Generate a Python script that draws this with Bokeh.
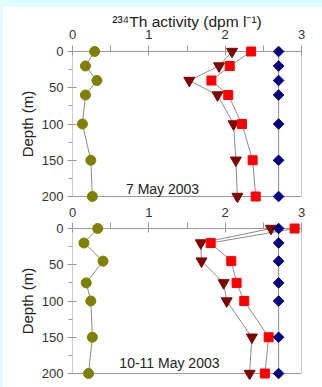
import math
from bokeh.plotting import figure
from bokeh.models import Range1d, FixedTicker, Label, Spacer, Title
from bokeh.layouts import column, row
from bokeh.embed import file_html
from bokeh.resources import INLINE

# ---- data ----
x_ticks = [0, 1, 2, 3]
x_minor = [0.5, 1.5, 2.5]
y_ticks = [0, 50, 100, 150, 200]
y_minor = [25, 75, 125, 175]

depth_a = [0, 20, 40, 60, 100, 150, 200]
circ_a = [0.29, 0.17, 0.32, 0.17, 0.13, 0.24, 0.26]
tri_a = [2.09, 1.92, 1.53, 1.90, 2.11, 2.14, 2.16]
sq_a = [2.34, 2.06, 1.82, 2.04, 2.22, 2.36, 2.40]
dia_a = [2.70, 2.70, 2.70, 2.70, 2.70, 2.70, 2.70]

depth_b = [0, 20, 45, 75, 100, 150, 200]
circ_b = [0.33, 0.15, 0.40, 0.18, 0.24, 0.26, 0.21]
tri_b = [2.60, 1.68, 1.69, 1.98, 2.02, 2.35, 2.32]
sq_b = [2.91, 1.81, 2.08, 2.15, 2.25, 2.57, 2.52]
dia_b = [2.70, 2.70, 2.70, 2.70, 2.70, 2.70, 2.70]

title_text = "²³⁴Th activity (dpm l⁻¹)"
y_title = "Depth (m)"
label_a = ("7 May 2003", 1.18, 189)
label_b = ("10-11 May 2003", 1.27, 185)

FONT = "Liberation Sans"
GREY = "#9a9a9a"
LINE = "#8c8c8c"
BG = "#dffcff"

FRAME_H = 145          # px between depth 0 and depth 200
PAD_PX = 6             # unclipped room for markers at the ends
x0, x1 = x_ticks[0], x_ticks[-1]
y0, y1 = y_ticks[0], y_ticks[-1]
pad = PAD_PX * (y1 - y0) / FRAME_H


def make(depth, circ, tri, sq, dia, lab, top_title, mbt, mbb, label_standoff):
    p = figure(width=319, height=mbt + FRAME_H + 2 * PAD_PX + mbb,
               x_range=Range1d(x0, x1), y_range=Range1d(y1 + pad, y0 - pad),
               x_axis_location="above", output_backend="svg", toolbar_location=None,
               min_border_left=69, min_border_right=21, min_border_top=mbt,
               min_border_bottom=mbb)
    p.background_fill_color = "white"
    p.border_fill_color = "white"
    p.outline_line_color = None
    p.grid.visible = False
    p.xaxis.ticker = FixedTicker(ticks=x_ticks, minor_ticks=x_minor)
    p.yaxis.ticker = FixedTicker(ticks=y_ticks, minor_ticks=y_minor)
    for ax in (p.xaxis[0], p.yaxis[0]):
        ax.axis_line_color = None
        ax.major_tick_line_color = GREY
        ax.minor_tick_line_color = GREY
        ax.major_label_text_font = FONT
        ax.major_label_text_font_size = "13px"
        ax.major_label_text_color = "#333333"
        ax.axis_label_text_font = FONT
        ax.axis_label_text_font_style = "normal"
        ax.axis_label_text_color = "#222222"
    # x axis sits PAD_PX above the depth-0 line: ticks drawn inward across it
    xa = p.xaxis[0]
    xa.major_tick_out = 0
    xa.major_tick_in = PAD_PX + 4
    xa.minor_tick_out = 0
    xa.minor_tick_in = PAD_PX
    xa.major_label_standoff = label_standoff
    ya = p.yaxis[0]
    ya.major_tick_out = 5
    ya.major_tick_in = 4
    ya.minor_tick_out = 4
    ya.minor_tick_in = 0
    ya.major_label_standoff = 4
    ya.axis_label = y_title
    ya.axis_label_text_font_size = "15px"
    ya.axis_label_standoff = 3
    if top_title:
        p.title = Title(text=title_text, align="center", standoff=-6,
                        text_font=FONT, text_font_size="15.5px",
                        text_font_style="normal", text_color="#222222")

    # frame box between the data limits
    p.line([x0, x1, x1, x0, x0], [y0, y0, y1, y1, y0], line_color=GREY, line_width=1)

    for xs in (circ, tri, sq, dia):
        p.line(xs, depth, line_color=LINE, line_width=1)
    p.scatter(circ, depth, marker="circle", size=10, fill_color="#808000", line_color="#808000")
    p.scatter(tri, depth, marker="inverted_triangle", size=11, fill_color="#800000", line_color="#800000")
    p.scatter(sq, depth, marker="square", size=9, fill_color="#ff0000", line_color="#ff0000")
    p.scatter(dia, depth, marker="square", angle=math.pi / 4, size=7.5,
              fill_color="#000080", line_color="#000080")
    p.add_layout(Label(x=lab[1], y=lab[2], text=lab[0], text_align="center",
                       text_baseline="middle", text_font=FONT, text_font_size="14px",
                       text_color="#222222"))
    return p


p1 = make(depth_a, circ_a, tri_a, sq_a, dia_a, label_a, True, 38, 1, 7)
p2 = make(depth_b, circ_b, tri_b, sq_b, dia_b, label_b, False, 19, 8, 6)

top_strip = Spacer(width=322, height=7, styles={"background-color": BG})
left_strip = Spacer(width=3, height=380, styles={"background-color": BG})
p = column(top_strip, row(left_strip, column(p1, p2, spacing=0), spacing=0), spacing=0)

open("out.html", "w").write(file_html(p, INLINE))
